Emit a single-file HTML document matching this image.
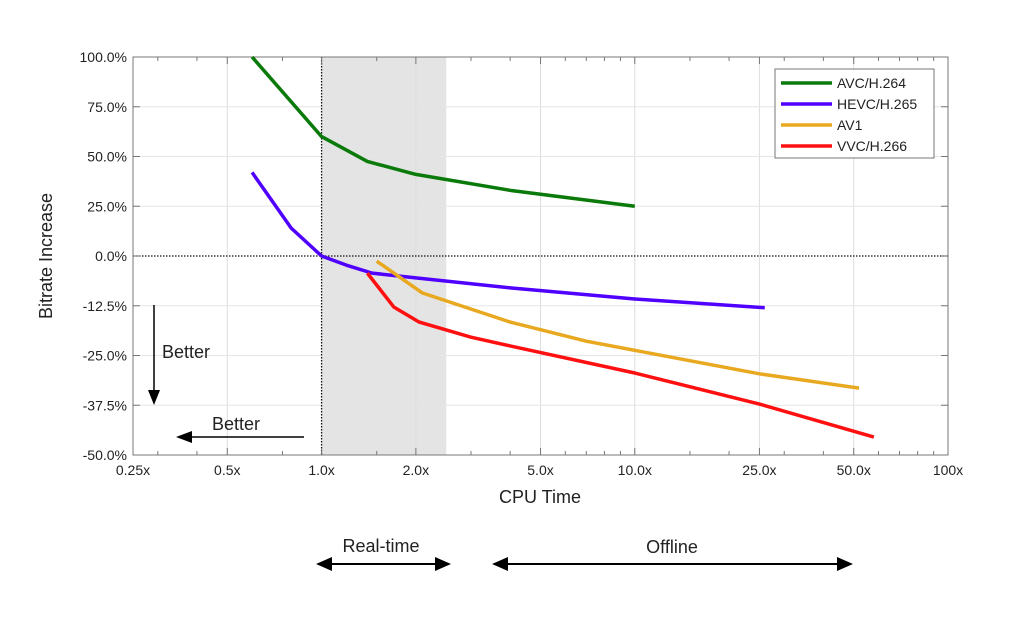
<!DOCTYPE html>
<html><head><meta charset="utf-8"><style>
body{margin:0;background:#fff;width:1024px;height:615px;overflow:hidden}
svg text{font-family:"Liberation Sans",Arial,sans-serif;fill:#222}
</style></head><body>
<svg id="c" width="1024" height="615" xmlns="http://www.w3.org/2000/svg"></svg>
<script>
const xTicks=[0.25,0.5,1,2,5,10,25,50,100];
const xTickLabels=["0.25x","0.5x","1.0x","2.0x","5.0x","10.0x","25.0x","50.0x","100x"];
const yTicks=[100,75,50,25,0,-12.5,-25,-37.5,-50];
const yTickLabels=["100.0%","75.0%","50.0%","25.0%","0.0%","-12.5%","-25.0%","-37.5%","-50.0%"];
const seriesNames=["AVC/H.264","HEVC/H.265","AV1","VVC/H.266"];
const avcX=[0.6,1.0,1.4,2.0,4.0,10];
const avcY=[100,60,47.5,41,33,25];
const hevcX=[0.6,0.8,1.0,1.2,1.45,2.0,4.0,10,26];
const hevcY=[42,14,0,-2.3,-4.3,-5.5,-8,-10.8,-13];
const av1X=[1.5,2.1,4.0,7.0,25,52];
const av1Y=[-1.3,-9.3,-16.6,-21.4,-29.6,-33.2];
const vvcX=[1.4,1.7,2.05,3.0,4.0,10,25,58];
const vvcY=[-4.3,-12.8,-16.6,-20.4,-22.6,-29.4,-37.2,-45.5];
const realTime=[1.0,2.5];
const colors=["#0a7a0a","#5000ff","#e8a820","#ff1010"];

const L=133,R=948,T=57,B=455,Y0=256;
const sx=v=>L+(R-L)*Math.log10(v/0.25)/Math.log10(400);
const sy=v=>v>=0?Y0-(Y0-T)*v/100:Y0+(B-Y0)*(-v)/50;
const svg=document.getElementById('c');
const NS="http://www.w3.org/2000/svg";
function mk(tag,attrs,parent){const e=document.createElementNS(NS,tag);for(const k in attrs)e.setAttribute(k,attrs[k]);(parent||svg).appendChild(e);return e;}

// shaded real-time region
let sh=mk('rect',{x:sx(realTime[0]),y:T,width:sx(realTime[1])-sx(realTime[0]),height:B-T,fill:'#e4e4e4'});


// grid
xTicks.forEach((v,i)=>{if(i>0&&i<xTicks.length-1){const g=mk('line',{x1:sx(v),x2:sx(v),y1:T,y2:B,stroke:'#ddd','stroke-width':1});

}});
yTicks.forEach((v,i)=>{if(i>0&&i<yTicks.length-1&&v!==0){const g=mk('line',{x1:L,x2:R,y1:sy(v),y2:sy(v),stroke:'#e6e6e6','stroke-width':1});

}});
// dotted reference lines
let d1=mk('line',{x1:L,x2:R,y1:sy(0),y2:sy(0),stroke:'#111','stroke-width':1.3,'stroke-dasharray':'1.5 1.5'});


let d2=mk('line',{x1:sx(1),x2:sx(1),y1:T,y2:B,stroke:'#111','stroke-width':1.3,'stroke-dasharray':'1.5 1.5'});


// frame
let fr=mk('rect',{x:L,y:T,width:R-L,height:B-T,fill:'none',stroke:'#777','stroke-width':1});


// minor ticks
const minors=[0.3,0.4,3,4,6,7,8,9,30,40,60,70,80,90,1.5,0.75,15,20];
minors.forEach(v=>{[T,B].forEach((y,j)=>{mk('line',{x1:sx(v),x2:sx(v),y1:y,y2:j?y-4:y+4,stroke:'#777'});});});
xTicks.forEach((v,i)=>{[T,B].forEach((y,j)=>{mk('line',{x1:sx(v),x2:sx(v),y1:y,y2:j?y-7:y+7,stroke:'#777'});});
const t=mk('text',{x:sx(v),y:B+20,'text-anchor':'middle','font-size':14});t.textContent=xTickLabels[i];

});
yTicks.forEach((v,i)=>{[L,R].forEach((x,j)=>{mk('line',{x1:x,x2:j?x-7:x+7,y1:sy(v),y2:sy(v),stroke:'#777'});});
const t=mk('text',{x:L-6,y:sy(v)+5,'text-anchor':'end','font-size':14});t.textContent=yTickLabels[i];

});
// series
[[avcX,avcY],[hevcX,hevcY],[av1X,av1Y],[vvcX,vvcY]].forEach((s,k)=>{
const p=mk('polyline',{points:s[0].map((x,i)=>sx(x)+','+sy(s[1][i])).join(' '),fill:'none',stroke:colors[k],'stroke-width':3.5,'stroke-linejoin':'round'});

});
// legend
const lg=mk('g',{});


mk('rect',{x:775,y:69,width:159,height:89,fill:'#fff',stroke:'#777'},lg);
seriesNames.forEach((n,k)=>{const y=83+k*21;
mk('line',{x1:781,x2:832,y1:y,y2:y,stroke:colors[k],'stroke-width':3.5},lg);
const t=mk('text',{x:837,y:y+5,'font-size':14},lg);t.textContent=n;

});
// axis titles
let xt=mk('text',{x:540,y:503,'text-anchor':'middle','font-size':18});xt.textContent='CPU Time';


let yt=mk('text',{x:52,y:256,'text-anchor':'middle','font-size':18,transform:'rotate(-90 52 256)'});yt.textContent='Bitrate Increase';


// better annotations
mk('line',{x1:154,x2:154,y1:305,y2:392,stroke:'#000','stroke-width':1.5});
mk('polygon',{points:'148,390 160,390 154,405',fill:'#000'});
let b1=mk('text',{x:162,y:358,'font-size':18});b1.textContent='Better';


mk('line',{x1:190,x2:304,y1:437,y2:437,stroke:'#000','stroke-width':1.5});
mk('polygon',{points:'192,431 192,443 176,437',fill:'#000'});
let b2=mk('text',{x:212,y:430,'font-size':18});b2.textContent='Better';


// bottom arrows
function darrow(x1,x2,y){mk('line',{x1:x1+12,x2:x2-12,y1:y,y2:y,stroke:'#000','stroke-width':2});
mk('polygon',{points:`${x1},${y} ${x1+16},${y-7} ${x1+16},${y+7}`,fill:'#000'});
mk('polygon',{points:`${x2},${y} ${x2-16},${y-7} ${x2-16},${y+7}`,fill:'#000'});}
darrow(316,451,564);darrow(492,853,564);
let rt=mk('text',{x:381,y:552,'text-anchor':'middle','font-size':18});rt.textContent='Real-time';


let of=mk('text',{x:672,y:553,'text-anchor':'middle','font-size':18});of.textContent='Offline';


</script>
</body></html>
